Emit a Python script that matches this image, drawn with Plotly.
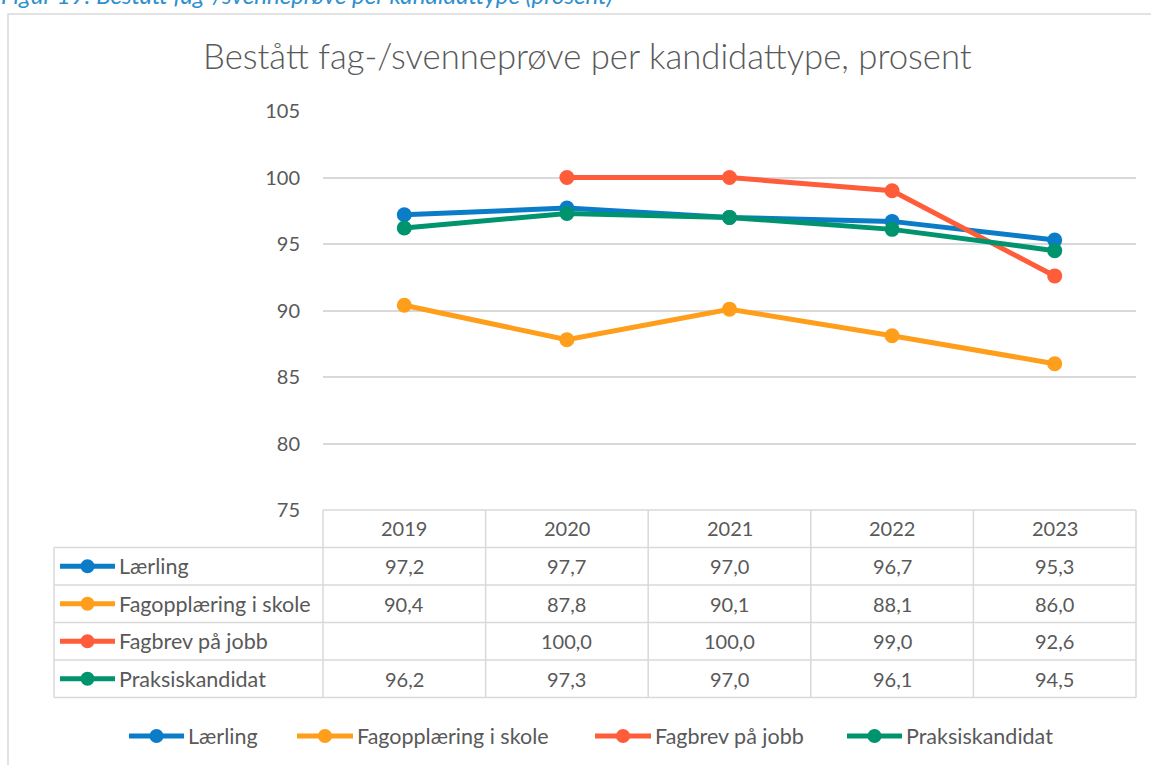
import plotly.graph_objects as go

years = ["2019", "2020", "2021", "2022", "2023"]
series_names = ["Lærling", "Fagopplæring i skole", "Fagbrev på jobb", "Praksiskandidat"]
laerling = [97.2, 97.7, 97.0, 96.7, 95.3]
fagopplaering = [90.4, 87.8, 90.1, 88.1, 86.0]
fagbrev = [None, 100.0, 100.0, 99.0, 92.6]
praksis = [96.2, 97.3, 97.0, 96.1, 94.5]
colors = ["#0A7CC8", "#FF9E1B", "#FF5C39", "#00946E"]
y_ticks = [75, 80, 85, 90, 95, 100, 105]

all_series = [laerling, fagopplaering, fagbrev, praksis]

W, H = 1151, 765
L, R, T, B = 323, 15, 111, 255
PW = W - L - R
PH = H - T - B

def px(x):
    return (x - L) / PW

def py(y):
    return (H - B - y) / PH

TXT = "#595959"
GRID = "#D9D9D9"
FONT = "Lato"
LBL = 21.5
NUM = 20

fig = go.Figure()
xs = list(range(len(years)))
for name, vals, c in zip(series_names, all_series, colors):
    fig.add_trace(go.Scatter(
        x=xs, y=vals, name=name, mode="lines+markers",
        line=dict(color=c, width=5),
        marker=dict(color=c, size=15),
        connectgaps=False, showlegend=False,
    ))

shapes = []
annotations = []

# outer chart border
shapes.append(dict(type="rect", xref="paper", yref="paper",
                   x0=px(8), x1=px(1170), y0=py(14), y1=py(780),
                   line=dict(color=GRID, width=1.5), fillcolor="rgba(0,0,0,0)", layer="below"))

# data table grid
row_h = 37.5
top = H - B
col_edges = [L + i * PW / len(years) for i in range(len(years) + 1)]
n_rows = len(series_names)
table_bottom = top + row_h * (n_rows + 1)
for xe in col_edges:
    shapes.append(dict(type="line", xref="paper", yref="paper",
                       x0=px(xe), x1=px(xe), y0=py(top), y1=py(table_bottom),
                       line=dict(color=GRID, width=1.5)))
shapes.append(dict(type="line", xref="paper", yref="paper",
                   x0=px(54), x1=px(54), y0=py(top + row_h), y1=py(table_bottom),
                   line=dict(color=GRID, width=1.5)))
shapes.append(dict(type="line", xref="paper", yref="paper",
                   x0=px(L), x1=px(W - R), y0=py(top), y1=py(top),
                   line=dict(color=GRID, width=1.5)))
for r in range(1, n_rows + 2):
    yy = top + r * row_h
    shapes.append(dict(type="line", xref="paper", yref="paper",
                       x0=px(54), x1=px(W - R), y0=py(yy), y1=py(yy),
                       line=dict(color=GRID, width=1.5)))

def key(x0, x1, cy, c):
    shapes.append(dict(type="line", xref="paper", yref="paper",
                       x0=px(x0), x1=px(x1), y0=py(cy), y1=py(cy),
                       line=dict(color=c, width=5)))
    mx = (x0 + x1) / 2
    shapes.append(dict(type="circle", xref="paper", yref="paper",
                       x0=px(mx - 7), x1=px(mx + 7), y0=py(cy - 7), y1=py(cy + 7),
                       fillcolor=c, line=dict(color=c, width=0)))

# header years
for i, yr in enumerate(years):
    annotations.append(dict(x=i, y=py(top + row_h / 2 - 1), xref="x", yref="paper",
                            xanchor="center", yanchor="middle",
                            text=yr, showarrow=False, font=dict(size=NUM, color=TXT, family=FONT)))

# rows
for r, (name, vals, c) in enumerate(zip(series_names, all_series, colors)):
    cy = top + (r + 1.5) * row_h
    key(60, 115, cy, c)
    annotations.append(dict(x=px(117), y=py(cy), xref="paper", yref="paper",
                            text=name, showarrow=False, xanchor="left", yanchor="middle",
                            font=dict(size=LBL, color=TXT, family=FONT)))
    for i, v in enumerate(vals):
        if v is None:
            continue
        annotations.append(dict(x=i, y=py(cy), xref="x", yref="paper",
                                xanchor="center", yanchor="middle",
                                text=f"{v:.1f}".replace(".", ","), showarrow=False,
                                font=dict(size=NUM, color=TXT, family=FONT)))

# bottom legend (manual)
leg_y = 736
leg_x = [(129, 184), (297, 353), (595, 651), (847, 902)]
for (x0, x1), name, c in zip(leg_x, series_names, colors):
    key(x0, x1, leg_y, c)
    annotations.append(dict(x=px(x1 + 2), y=py(leg_y), xref="paper", yref="paper",
                            text=name, showarrow=False, xanchor="left", yanchor="middle",
                            font=dict(size=LBL, color=TXT, family=FONT)))

# title
annotations.append(dict(x=px(587), y=py(56), xref="paper", yref="paper",
                        xanchor="center", yanchor="middle",
                        text="Bestått fag-/svenneprøve per kandidattype, prosent",
                        showarrow=False, font=dict(size=34.7, color=TXT, family=FONT, weight=300)))
# caption (clipped at top, as in the source image)
annotations.append(dict(x=px(-1), y=py(11), xref="paper", yref="paper", xanchor="left", yanchor="bottom",
                        text="<i>Figur 19: Bestått fag-/svenneprøve per kandidattype (prosent)</i>",
                        showarrow=False, font=dict(size=24, color="#2E8FD0", family=FONT)))

fig.update_layout(
    width=W, height=H,
    margin=dict(l=L, r=R, t=T, b=B),
    paper_bgcolor="white", plot_bgcolor="white",
    font=dict(family=FONT, color=TXT),
    shapes=shapes, annotations=annotations,
    showlegend=False,
    xaxis=dict(range=[-0.5, len(years) - 0.5], showticklabels=False, showgrid=False,
               zeroline=False, showline=False, fixedrange=True),
    yaxis=dict(range=[75, 105], tickvals=y_ticks, ticktext=[str(t) for t in y_ticks],
               showgrid=True, gridcolor=GRID, gridwidth=1.5, zeroline=False,
               showline=False, ticks="", ticklabelstandoff=22,
               tickfont=dict(size=NUM, color=TXT, family=FONT)),
)

fig.write_html("out.html", config={"displayModeBar": False},
               post_script="document.body.style.margin='0';document.body.style.overflow='hidden';")
